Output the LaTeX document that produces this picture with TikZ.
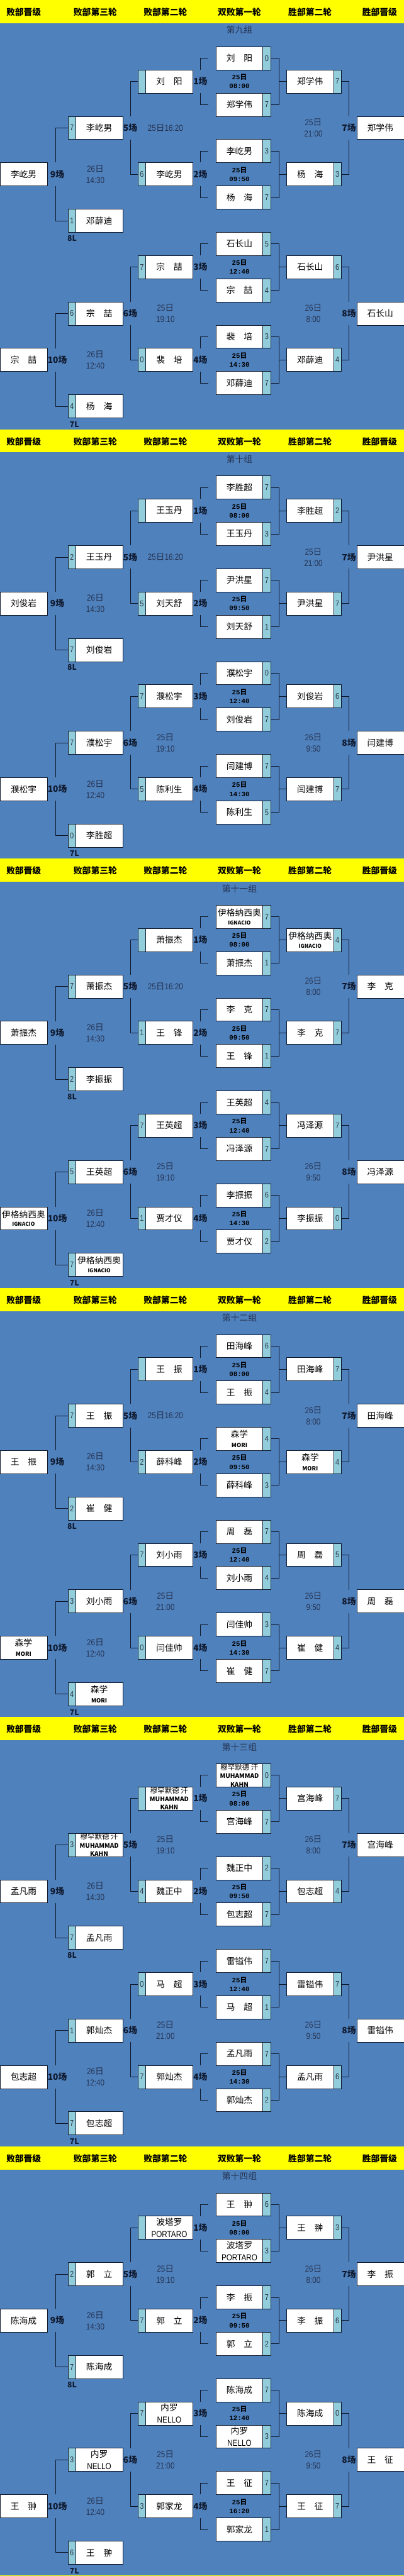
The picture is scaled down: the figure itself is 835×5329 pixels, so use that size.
\documentclass[tikz,border=0pt]{standalone}
\usepackage{fontspec}
\setmainfont{Noto Sans CJK SC}
\newfontfamily\cjkf{Noto Sans CJK SC}
\newfontfamily\narrow[FakeStretch=0.85]{Liberation Sans}
\newfontfamily\monob{Liberation Mono}
\definecolor{bgblue}{RGB}{79,129,189}
\definecolor{stripc}{RGB}{146,205,220}
\definecolor{wire}{RGB}{15,25,45}
\definecolor{dimtxt}{RGB}{38,52,82}
\definecolor{scoretxt}{RGB}{45,55,70}
\definecolor{headyel}{RGB}{255,255,0}
\tikzset{
  namebox/.style={draw=wire,line width=0.8bp,fill=white,minimum height=48bp,inner sep=0pt,align=center,font=\fontsize{18}{20}\selectfont,text=black},
  stripbox/.style={draw=wire,line width=0.8bp,fill=stripc,minimum height=48bp,minimum width=16bp,inner sep=0pt,font=\narrow\fontsize{17}{18}\selectfont,text=scoretxt},
  wireline/.style={draw=wire,line width=0.9bp},
  gamelbl/.style={font=\bfseries\fontsize{18}{20}\selectfont,text=wire,inner sep=0pt,minimum height=48bp},
  boldtime/.style={font=\bfseries\fontsize{14}{18.5}\selectfont,align=center,inner sep=0pt,text=black},
  softtime/.style={font=\narrow\fontsize{18}{23.5}\selectfont,align=center,inner sep=0pt,text=dimtxt},
  headtxt/.style={font=\bfseries\fontsize{18}{20}\selectfont,text=black,inner sep=0pt},
  titletxt/.style={font=\fontsize{18}{20}\selectfont,text=dimtxt,inner sep=0pt},
  losstxt/.style={font=\bfseries\fontsize{16}{18}\selectfont,text=wire,inner sep=0pt},
}
\newcommand\bt[1]{{\monob 25}{\cjkf 日}\\{\monob #1}}
\newcommand\stt[2]{#1{\cjkf 日}\\#2}
\newcommand\sto[2]{#1{\cjkf 日}#2}
\newcommand\nmIgn{伊格纳西奥\\[-2pt]{\fontsize{11}{12}\selectfont\bfseries IGNACIO}}
\newcommand\nmMori{森学\\[1pt]{\fontsize{12}{13}\selectfont\bfseries MORI}}
\newcommand\nmMuh{{\fontsize{15}{16}\selectfont 穆罕默德 汗}\\[-2.5pt]{\fontsize{13}{14}\selectfont\bfseries MUHAMMAD}\\[-2.5pt]{\fontsize{13}{14}\selectfont\bfseries KAHN}}
\newcommand\nmPor{波塔罗\\[5pt]{\narrow\fontsize{18}{19}\selectfont PORTARO}}
\newcommand\nmNel{内罗\\[5pt]{\narrow\fontsize{18}{19}\selectfont NELLO}}
\newcommand\bx[5]{%
  \pgfmathsetmacro\yy{888*#1+120.5+48*#3}%
  \ifcase#2\or
    \node[namebox,minimum width=97.4bp] (b#1c1r#3) at (48.7,\yy) {#4};%
  \or
    \node[namebox,minimum width=97bp] (b#1c2r#3) at (205.1,\yy) {#4};%
    \node[stripbox] (s#1c2r#3) at (148.6,\yy) {#5};%
  \or
    \node[namebox,minimum width=97bp] (b#1c3r#3) at (349.9,\yy) {#4};%
    \node[stripbox] (s#1c3r#3) at (293.4,\yy) {#5};%
  \or
    \node[namebox,minimum width=97bp] (b#1c4r#3) at (495,\yy) {#4};%
    \node[stripbox] (s#1c4r#3) at (551.5,\yy) {#5};%
  \or
    \node[namebox,minimum width=97bp] (b#1c5r#3) at (641.2,\yy) {#4};%
    \node[stripbox] (s#1c5r#3) at (697.7,\yy) {#5};%
  \or
    \node[namebox,minimum width=97.5bp] (b#1c6r#3) at (786.25,\yy) {#4};%
  \fi}
\newcommand\halfwire[7]{%
  \edef\ra{\the\numexpr#2\relax}\edef\rb{\the\numexpr#2+1\relax}%
  \edef\rc{\the\numexpr#2+2\relax}\edef\rd{\the\numexpr#2+3\relax}%
  \edef\re{\the\numexpr#2+4\relax}\edef\rf{\the\numexpr#2+5\relax}%
  \edef\rg{\the\numexpr#2+6\relax}\edef\rh{\the\numexpr#2+7\relax}%
  \pgfmathsetmacro\yb{888*#1+120.5+48*\rb}%
  \pgfmathsetmacro\yd{888*#1+120.5+48*\rd}%
  \pgfmathsetmacro\yf{888*#1+120.5+48*\rf}%
  \node[gamelbl] (g#1a\ra) at (414.3,\yb) {#3};
  \node[gamelbl] (g#1b\ra) at (414.3,\yf) {#4};
  \node[gamelbl] (g#1c\ra) at (269.4,\yd) {#5};
  \node[gamelbl] (g#1d\ra) at (721.5,\yd) {#6};
  \node[gamelbl] (g#1e\ra) at (118.5,\yf) {#7};
  \draw[wireline] ([xshift=-16bp]b#1c4r\ra.west) -| (g#1a\ra.north);
  \draw[wireline] ([xshift=-16bp]b#1c4r\rc.west) -| (g#1a\ra.south);
  \draw[wireline] ([xshift=-16bp]b#1c4r\re.west) -| (g#1b\ra.north);
  \draw[wireline] ([xshift=-16bp]b#1c4r\rg.west) -| (g#1b\ra.south);
  \draw[wireline] (s#1c4r\ra.east) -- ++(17.2,0) |- (s#1c4r\rc.east);
  \draw[wireline] (b#1c5r\rb.west) -- ++(-16,0);
  \draw[wireline] (s#1c4r\re.east) -- ++(17.2,0) |- (s#1c4r\rg.east);
  \draw[wireline] (b#1c5r\rf.west) -- ++(-16,0);
  \draw[wireline] (s#1c5r\rb.east) -| (g#1d\ra.north);
  \draw[wireline] (s#1c5r\rf.east) -| (g#1d\ra.south);
  \draw[wireline] (s#1c3r\rb.west) -| (g#1c\ra.north);
  \draw[wireline] (s#1c3r\rf.west) -| (g#1c\ra.south);
  \draw[wireline] (s#1c2r\rd.west) -| ([xshift=-4bp]g#1e\ra.north);
  \draw[wireline] (s#1c2r\rh.west) -| ([xshift=-4bp]g#1e\ra.south);
}
\newcommand\gtimes[6]{%
  \pgfmathsetmacro\ya{888*#1+120.5}%
  \node[boldtime] (t#1a) at (495,\ya+48) {\bt{08:00}};
  \node[boldtime] (t#1b) at (495,\ya+240) {\bt{09:50}};
  \node[boldtime] (t#1c) at (495,\ya+432) {\bt{12:40}};
  \node[boldtime] (t#1d) at (495,\ya+624) {\bt{#2}};
  \node[softtime] (t#1e) at (342,\ya+144) {#3};
  \node[softtime] (t#1f) at (342,\ya+528) {#4};
  \node[softtime] (t#1g) at (648,\ya+144) {#5};
  \node[softtime] (t#1h) at (648,\ya+528) {#6};
  \node[softtime] (t#1i) at (197,\ya+240) {\stt{26}{14:30}};
  \node[softtime] (t#1j) at (197,\ya+624) {\stt{26}{12:40}};
}
\newcommand\ghead[2]{%
  \pgfmathsetmacro\yt{888*#1}%
  \fill[headyel] (0,\yt) rectangle (835,\yt+48);
  \node[headtxt] (h#1a) at (49,\yt+25) {败部晋级};
  \node[headtxt] (h#1b) at (197,\yt+25) {败部第三轮};
  \node[headtxt] (h#1c) at (342,\yt+25) {败部第二轮};
  \node[headtxt] (h#1d) at (495,\yt+25) {双败第一轮};
  \node[headtxt] (h#1e) at (641,\yt+25) {胜部第二轮};
  \node[headtxt] (h#1f) at (785,\yt+25) {胜部晋级};
  \node[titletxt] (h#1t) at (495,\yt+62) {#2};
  \node[losstxt] (l#1a) at (149,\yt+493) {8L};
  \node[losstxt] (l#1b) at (154,\yt+878) {7L};
}
\begin{document}
\begin{tikzpicture}[x=1bp,y=-1bp]
\useasboundingbox (0,0) rectangle (835,5329);
\fill[bgblue] (0,0) rectangle (835,5329);
\fill[headyel] (0,5328) rectangle (835,5329);
% ---------- group 9
\ghead{0}{第九组}
\bx{0}{4}{0}{刘　阳}{0}
\bx{0}{4}{2}{郑学伟}{7}
\bx{0}{4}{4}{李屹男}{3}
\bx{0}{4}{6}{杨　海}{7}
\bx{0}{4}{8}{石长山}{5}
\bx{0}{4}{10}{宗　喆}{4}
\bx{0}{4}{12}{裴　培}{3}
\bx{0}{4}{14}{邓薛迪}{7}
\bx{0}{3}{1}{刘　阳}{}
\bx{0}{3}{5}{李屹男}{6}
\bx{0}{3}{9}{宗　喆}{7}
\bx{0}{3}{13}{裴　培}{0}
\bx{0}{5}{1}{郑学伟}{7}
\bx{0}{5}{5}{杨　海}{3}
\bx{0}{5}{9}{石长山}{6}
\bx{0}{5}{13}{邓薛迪}{4}
\bx{0}{2}{3}{李屹男}{7}
\bx{0}{2}{7}{邓薛迪}{1}
\bx{0}{2}{11}{宗　喆}{6}
\bx{0}{2}{15}{杨　海}{4}
\bx{0}{6}{3}{郑学伟}{}
\bx{0}{6}{11}{石长山}{}
\bx{0}{1}{5}{李屹男}{}
\bx{0}{1}{13}{宗　喆}{}
\halfwire{0}{0}{1场}{2场}{5场}{7场}{9场}
\halfwire{0}{8}{3场}{4场}{6场}{8场}{10场}
\gtimes{0}{14:30}{\sto{25}{16:20}}{\stt{25}{19:10}}{\stt{25}{21:00}}{\stt{26}{8:00}}
% ---------- group 10
\ghead{1}{第十组}
\bx{1}{4}{0}{李胜超}{7}
\bx{1}{4}{2}{王玉丹}{3}
\bx{1}{4}{4}{尹洪星}{7}
\bx{1}{4}{6}{刘天舒}{1}
\bx{1}{4}{8}{濮松宇}{0}
\bx{1}{4}{10}{刘俊岩}{7}
\bx{1}{4}{12}{闫建博}{7}
\bx{1}{4}{14}{陈利生}{5}
\bx{1}{3}{1}{王玉丹}{}
\bx{1}{3}{5}{刘天舒}{5}
\bx{1}{3}{9}{濮松宇}{7}
\bx{1}{3}{13}{陈利生}{5}
\bx{1}{5}{1}{李胜超}{2}
\bx{1}{5}{5}{尹洪星}{7}
\bx{1}{5}{9}{刘俊岩}{6}
\bx{1}{5}{13}{闫建博}{7}
\bx{1}{2}{3}{王玉丹}{2}
\bx{1}{2}{7}{刘俊岩}{7}
\bx{1}{2}{11}{濮松宇}{7}
\bx{1}{2}{15}{李胜超}{0}
\bx{1}{6}{3}{尹洪星}{}
\bx{1}{6}{11}{闫建博}{}
\bx{1}{1}{5}{刘俊岩}{}
\bx{1}{1}{13}{濮松宇}{}
\halfwire{1}{0}{1场}{2场}{5场}{7场}{9场}
\halfwire{1}{8}{3场}{4场}{6场}{8场}{10场}
\gtimes{1}{14:30}{\sto{25}{16:20}}{\stt{25}{19:10}}{\stt{25}{21:00}}{\stt{26}{9:50}}
% ---------- group 11
\ghead{2}{第十一组}
\bx{2}{4}{0}{\nmIgn}{7}
\bx{2}{4}{2}{萧振杰}{1}
\bx{2}{4}{4}{李　克}{7}
\bx{2}{4}{6}{王　锋}{1}
\bx{2}{4}{8}{王英超}{4}
\bx{2}{4}{10}{冯泽源}{7}
\bx{2}{4}{12}{李振振}{6}
\bx{2}{4}{14}{贾才仪}{2}
\bx{2}{3}{1}{萧振杰}{}
\bx{2}{3}{5}{王　锋}{1}
\bx{2}{3}{9}{王英超}{7}
\bx{2}{3}{13}{贾才仪}{1}
\bx{2}{5}{1}{\nmIgn}{4}
\bx{2}{5}{5}{李　克}{7}
\bx{2}{5}{9}{冯泽源}{7}
\bx{2}{5}{13}{李振振}{0}
\bx{2}{2}{3}{萧振杰}{7}
\bx{2}{2}{7}{李振振}{2}
\bx{2}{2}{11}{王英超}{5}
\bx{2}{2}{15}{\nmIgn}{7}
\bx{2}{6}{3}{李　克}{}
\bx{2}{6}{11}{冯泽源}{}
\bx{2}{1}{5}{萧振杰}{}
\bx{2}{1}{13}{\nmIgn}{}
\halfwire{2}{0}{1场}{2场}{5场}{7场}{9场}
\halfwire{2}{8}{3场}{4场}{6场}{8场}{10场}
\gtimes{2}{14:30}{\sto{25}{16:20}}{\stt{25}{19:10}}{\stt{26}{8:00}}{\stt{26}{9:50}}
% ---------- group 12
\ghead{3}{第十二组}
\bx{3}{4}{0}{田海峰}{6}
\bx{3}{4}{2}{王　振}{4}
\bx{3}{4}{4}{\nmMori}{4}
\bx{3}{4}{6}{薛科峰}{3}
\bx{3}{4}{8}{周　磊}{7}
\bx{3}{4}{10}{刘小雨}{4}
\bx{3}{4}{12}{闫佳帅}{3}
\bx{3}{4}{14}{崔　健}{7}
\bx{3}{3}{1}{王　振}{}
\bx{3}{3}{5}{薛科峰}{2}
\bx{3}{3}{9}{刘小雨}{7}
\bx{3}{3}{13}{闫佳帅}{0}
\bx{3}{5}{1}{田海峰}{7}
\bx{3}{5}{5}{\nmMori}{4}
\bx{3}{5}{9}{周　磊}{5}
\bx{3}{5}{13}{崔　健}{4}
\bx{3}{2}{3}{王　振}{7}
\bx{3}{2}{7}{崔　健}{2}
\bx{3}{2}{11}{刘小雨}{3}
\bx{3}{2}{15}{\nmMori}{4}
\bx{3}{6}{3}{田海峰}{}
\bx{3}{6}{11}{周　磊}{}
\bx{3}{1}{5}{王　振}{}
\bx{3}{1}{13}{\nmMori}{}
\halfwire{3}{0}{1场}{2场}{5场}{7场}{9场}
\halfwire{3}{8}{3场}{4场}{6场}{8场}{10场}
\gtimes{3}{14:30}{\sto{25}{16:20}}{\stt{25}{21:00}}{\stt{26}{8:00}}{\stt{26}{9:50}}
% ---------- group 13
\ghead{4}{第十三组}
\bx{4}{4}{0}{\nmMuh}{0}
\bx{4}{4}{2}{宫海峰}{7}
\bx{4}{4}{4}{魏正中}{2}
\bx{4}{4}{6}{包志超}{7}
\bx{4}{4}{8}{雷镒伟}{7}
\bx{4}{4}{10}{马　超}{1}
\bx{4}{4}{12}{孟凡雨}{7}
\bx{4}{4}{14}{郭灿杰}{2}
\bx{4}{3}{1}{\nmMuh}{}
\bx{4}{3}{5}{魏正中}{4}
\bx{4}{3}{9}{马　超}{0}
\bx{4}{3}{13}{郭灿杰}{7}
\bx{4}{5}{1}{宫海峰}{7}
\bx{4}{5}{5}{包志超}{4}
\bx{4}{5}{9}{雷镒伟}{7}
\bx{4}{5}{13}{孟凡雨}{6}
\bx{4}{2}{3}{\nmMuh}{3}
\bx{4}{2}{7}{孟凡雨}{7}
\bx{4}{2}{11}{郭灿杰}{1}
\bx{4}{2}{15}{包志超}{7}
\bx{4}{6}{3}{宫海峰}{}
\bx{4}{6}{11}{雷镒伟}{}
\bx{4}{1}{5}{孟凡雨}{}
\bx{4}{1}{13}{包志超}{}
\halfwire{4}{0}{1场}{2场}{5场}{7场}{9场}
\halfwire{4}{8}{3场}{4场}{6场}{8场}{10场}
\gtimes{4}{14:30}{\stt{25}{19:10}}{\stt{25}{21:00}}{\stt{26}{8:00}}{\stt{26}{9:50}}
% ---------- group 14
\ghead{5}{第十四组}
\bx{5}{4}{0}{王　翀}{6}
\bx{5}{4}{2}{\nmPor}{3}
\bx{5}{4}{4}{李　振}{7}
\bx{5}{4}{6}{郭　立}{2}
\bx{5}{4}{8}{陈海成}{7}
\bx{5}{4}{10}{\nmNel}{3}
\bx{5}{4}{12}{王　征}{7}
\bx{5}{4}{14}{郭家龙}{1}
\bx{5}{3}{1}{\nmPor}{}
\bx{5}{3}{5}{郭　立}{7}
\bx{5}{3}{9}{\nmNel}{7}
\bx{5}{3}{13}{郭家龙}{3}
\bx{5}{5}{1}{王　翀}{3}
\bx{5}{5}{5}{李　振}{6}
\bx{5}{5}{9}{陈海成}{0}
\bx{5}{5}{13}{王　征}{7}
\bx{5}{2}{3}{郭　立}{2}
\bx{5}{2}{7}{陈海成}{7}
\bx{5}{2}{11}{\nmNel}{3}
\bx{5}{2}{15}{王　翀}{6}
\bx{5}{6}{3}{李　振}{}
\bx{5}{6}{11}{王　征}{}
\bx{5}{1}{5}{陈海成}{}
\bx{5}{1}{13}{王　翀}{}
\halfwire{5}{0}{1场}{2场}{5场}{7场}{9场}
\halfwire{5}{8}{3场}{4场}{6场}{8场}{10场}
\gtimes{5}{16:20}{\stt{25}{19:10}}{\stt{25}{21:00}}{\stt{26}{8:00}}{\stt{26}{9:50}}
\end{tikzpicture}
\end{document}
